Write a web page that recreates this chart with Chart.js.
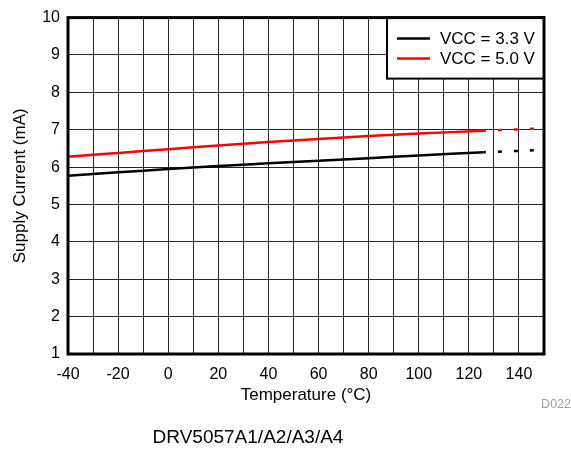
<!DOCTYPE html>
<html>
<head>
<meta charset="utf-8">
<script src="https://cdn.jsdelivr.net/npm/chart.js@4"></script>
<style>
  html, body { margin: 0; padding: 0; background: #fff; }
  #wrap { width: 571px; height: 449px; }
</style>
</head>
<body>
<div id="wrap"><canvas id="chart" width="571" height="449"></canvas></div>
<script>
// measured curves (temperature in °C, current in mA)
const temps = [-40, -20, 0, 20, 40, 60, 80, 100, 126];
const vcc33 = [5.77, 5.86, 5.95, 6.03, 6.10, 6.17, 6.24, 6.31, 6.40];
const vcc50 = [6.28, 6.38, 6.48, 6.58, 6.67, 6.75, 6.83, 6.90, 6.97];

// dotted extension past the measured range
const extTemps = [126, 150];
const vcc33Ext = [6.40, 6.46];
const vcc50Ext = [6.97, 7.04];

const seriesLabels = ["VCC = 3.3 V", "VCC = 5.0 V"];
const seriesColors = ["#000000", "#ff0000"];

const xMin = -40, xMax = 150, xStep = 10;
const yMin = 1, yMax = 10, yStep = 1;

Chart.defaults.font.family = '"Liberation Sans", Arial, sans-serif';
Chart.defaults.color = "#000";

function pts(xs, ys) {
    return xs.map((x, i) => ({ x: x, y: ys[i] }));
}

// legend box in the top right corner of the plot
const legendBox = {
    id: "legendBox",
    afterDatasetsDraw(chart) {
        const ctx = chart.ctx;
        const area = chart.chartArea;
        const w = 157, h = 61;
        const left = area.right - w, top = area.top;
        ctx.save();
        ctx.fillStyle = "#fff";
        ctx.fillRect(left, top, w, h);
        ctx.strokeStyle = "#000";
        ctx.lineWidth = 2;
        ctx.strokeRect(left, top, w, h);
        ctx.font = '17px "Liberation Sans", Arial, sans-serif';
        ctx.textBaseline = "middle";
        seriesLabels.forEach((label, i) => {
            const y = top + 21 + i * 20;
            ctx.strokeStyle = seriesColors[i];
            ctx.lineWidth = 2.5;
            ctx.beginPath();
            ctx.moveTo(left + 10, y);
            ctx.lineTo(left + 43, y);
            ctx.stroke();
            ctx.fillStyle = "#000";
            ctx.fillText(label, left + 53, y + 1);
        });
        ctx.restore();
    }
};

// thick frame round the plot plus the footer texts
const frameAndNotes = {
    id: "frameAndNotes",
    afterDraw(chart) {
        const ctx = chart.ctx;
        const a = chart.chartArea;
        ctx.save();
        ctx.strokeStyle = "#000";
        ctx.lineWidth = 3;
        ctx.strokeRect(a.left, a.top, a.right - a.left, a.bottom - a.top);

        ctx.fillStyle = "#a0a0a0";
        ctx.font = '12.5px "Liberation Sans", Arial, sans-serif';
        ctx.textAlign = "right";
        ctx.textBaseline = "middle";
        ctx.fillText("D022", 571, 405);

        ctx.fillStyle = "#000";
        ctx.font = '19px "Liberation Sans", Arial, sans-serif';
        ctx.textAlign = "center";
        ctx.textBaseline = "alphabetic";
        ctx.fillText("DRV5057A1/A2/A3/A4", 248, 443);
        ctx.restore();
    }
};

new Chart(document.getElementById("chart"), {
    type: "line",
    data: {
        datasets: [
            {
                label: seriesLabels[0],
                data: pts(temps, vcc33),
                borderColor: seriesColors[0],
                borderWidth: 2.5,
                pointRadius: 0,
                tension: 0.3
            },
            {
                label: seriesLabels[1],
                data: pts(temps, vcc50),
                borderColor: seriesColors[1],
                borderWidth: 2.5,
                pointRadius: 0,
                tension: 0.3
            },
            {
                label: seriesLabels[0] + " (ext)",
                data: pts(extTemps, vcc33Ext),
                borderColor: seriesColors[0],
                borderWidth: 2.5,
                borderDash: [4, 12],
                borderDashOffset: 2,
                pointRadius: 0
            },
            {
                label: seriesLabels[1] + " (ext)",
                data: pts(extTemps, vcc50Ext),
                borderColor: seriesColors[1],
                borderWidth: 2.5,
                borderDash: [4, 12],
                borderDashOffset: 2,
                pointRadius: 0
            }
        ]
    },
    options: {
        responsive: false,
        animation: false,
        layout: { padding: { top: 16, right: 27, bottom: 39, left: 0 } },
        plugins: {
            legend: { display: false },
            tooltip: { enabled: false }
        },
        scales: {
            x: {
                type: "linear",
                min: xMin,
                max: xMax,
                afterFit(scale) { scale.height = 56; },
                ticks: {
                    stepSize: xStep,
                    padding: 11,
                    maxRotation: 0,
                    autoSkip: false,
                    font: { size: 16 },
                    callback: v => (v % 20 === 0 && v !== xMax) ? String(v) : ""
                },
                grid: { color: "rgba(0,0,0,0.85)", lineWidth: 1, drawTicks: false },
                border: { display: false },
                title: {
                    display: true,
                    text: "Temperature (°C)",
                    font: { size: 17 },
                    padding: { top: 0, bottom: 4 }
                }
            },
            y: {
                min: yMin,
                max: yMax,
                afterFit(scale) { scale.width = 68; },
                ticks: {
                    stepSize: yStep,
                    padding: 8,
                    font: { size: 16 }
                },
                grid: { color: "rgba(0,0,0,0.85)", lineWidth: 1, drawTicks: false },
                border: { display: false },
                title: {
                    display: true,
                    text: "Supply Current (mA)",
                    font: { size: 17 },
                    padding: { top: 10, bottom: 0 }
                }
            }
        }
    },
    plugins: [legendBox, frameAndNotes]
});
</script>
</body>
</html>
